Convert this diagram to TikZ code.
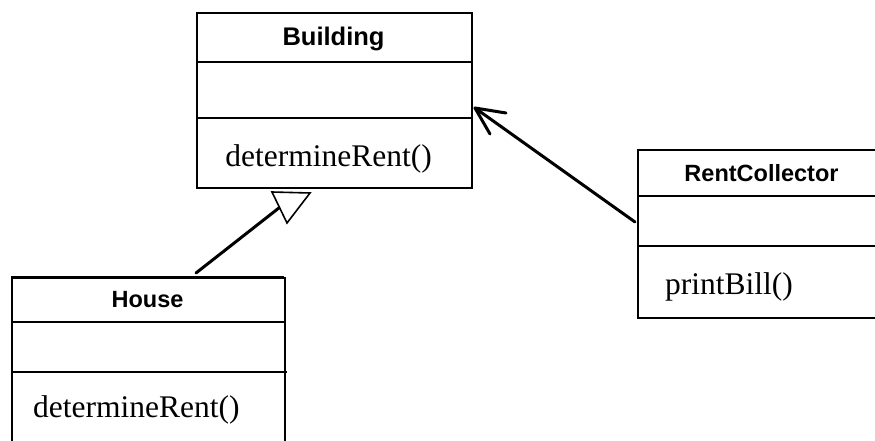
\documentclass[tikz,border=0pt]{standalone}
\usepackage{fontspec}
\setmainfont{Liberation Serif}
\newfontfamily\hdfont{Liberation Sans}
\begin{document}
\begin{tikzpicture}[x=1pt,y=-1pt,
  classbox/.style={draw=black,line width=1.6pt,rectangle,anchor=north west,inner sep=0pt},
  divider/.style={line width=1.6pt},
  hd/.style={font=\hdfont\bfseries\fontsize{23.5}{26}\selectfont,inner sep=0pt,anchor=base},
  op/.style={font=\fontsize{31.5}{34}\selectfont,inner sep=0pt},
  conn/.style={line width=3pt,line cap=round,line join=round}]
\useasboundingbox (0,0) rectangle (875,441);
% Building
\node[classbox,minimum width=275pt,minimum height=175pt] (building) at (196,12) {};
\draw[divider] (196,62) -- (471,62);
\draw[divider] (196,118) -- (471,118);
\node[hd,font=\hdfont\bfseries\fontsize{25.5}{28}\selectfont] (bname) at (333.5,46) {Building};
\node[op,anchor=base] (bop) at (328.5,166) {determineRent()};
% House
\node[classbox,minimum width=273pt,minimum height=180pt] (house) at (11,277) {};
\draw[line width=2.6pt] (11,277) -- (284,277);
\draw[divider] (11,322) -- (284,322);
\draw[divider] (11,372) -- (287,372);
\node[hd] (hname) at (147.5,307) {House};
\node[op,anchor=base west] (hop) at (33,417) {determineRent()};
% RentCollector
\node[classbox,minimum width=260pt,minimum height=168pt] (rent) at (637,149) {};
\draw[divider] (637,196) -- (900,196);
\draw[divider] (637,246) -- (900,246);
\node[hd] (rname) at (761.5,181) {RentCollector};
\node[op,anchor=base west] (rop) at (665,294) {printBill()};
% inheritance
\coordinate (hstart) at (196,273);
\coordinate (tribase) at (279.5,207.5);
\coordinate (t1) at (272,192);
\coordinate (t2) at (310,193);
\coordinate (t3) at (287,223);
\draw[conn] (hstart) -- (tribase);
\draw[line width=1.6pt,fill=white,line join=miter] (t1) -- (t2) -- (t3) -- cycle;
% association
\coordinate (rstart) at (635,222);
\coordinate (tip) at (475,108);
\coordinate (b1) at (506,113);
\coordinate (b2) at (490,134);
\draw[conn] (rstart) -- (tip);
\draw[conn] (b1) -- (tip) -- (b2);
\end{tikzpicture}
\end{document}
